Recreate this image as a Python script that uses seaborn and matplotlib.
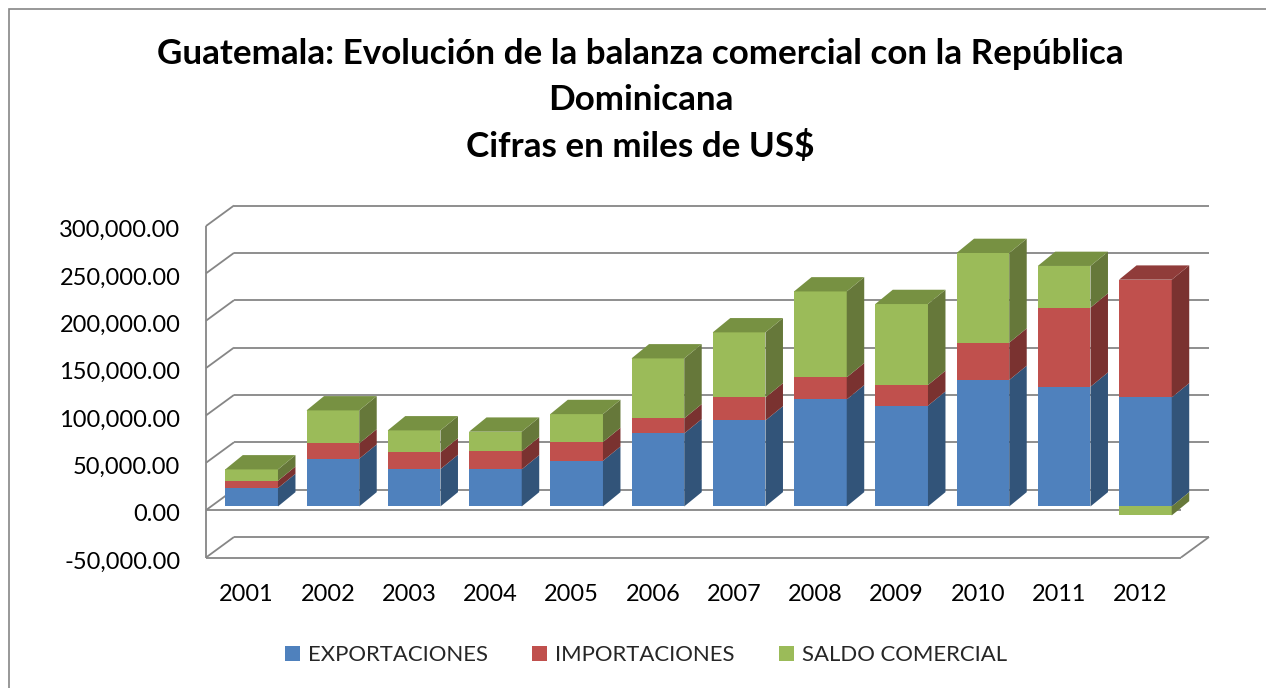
import matplotlib
matplotlib.use("Agg")
import matplotlib.pyplot as plt
from matplotlib.patches import Rectangle
from matplotlib.transforms import ScaledTranslation
import numpy as np
import pandas as pd
import seaborn as sns

years = ["2001", "2002", "2003", "2004", "2005", "2006", "2007", "2008", "2009", "2010", "2011", "2012"]
exportaciones = [19400, 50400, 39400, 39100, 48200, 77100, 90800, 113000, 106400, 133500, 126400, 115100]
importaciones = [7700, 16100, 17600, 19000, 19800, 15900, 24300, 23300, 21800, 39400, 83500, 124300]
saldo = [12000, 34900, 23300, 20800, 29500, 63300, 68700, 90700, 85500, 94700, 44000, -9500]
y_ticks = [-50000, 0, 50000, 100000, 150000, 200000, 250000, 300000]
series_names = ["EXPORTACIONES", "IMPORTACIONES", "SALDO COMERCIAL"]
title_text = "Guatemala: Evolución de la balanza comercial con la República\nDominicana\nCifras en miles de US$"

W, H = 1266, 688
sns.set_theme(style="white")
plt.rcParams["font.family"] = ["Lato", "DejaVu Sans"]

FRONT = {"EXPORTACIONES": "#4f81bd", "IMPORTACIONES": "#c0504d", "SALDO COMERCIAL": "#9bbb59"}
SIDE = {"EXPORTACIONES": "#325479", "IMPORTACIONES": "#7a3230", "SALDO COMERCIAL": "#66783a"}
TOP = {"EXPORTACIONES": "#3f6797", "IMPORTACIONES": "#903c3a", "SALDO COMERCIAL": "#779142"}
GRID = "#868686"

fig = plt.figure(figsize=(W / 100, H / 100), dpi=100, facecolor="white")
fig.add_artist(Rectangle((8.5 / W, -0.01), 1.0, 1 - 8.5 / H + 0.01, transform=fig.transFigure,
                         fill=False, edgecolor=GRID, linewidth=1.2))

L, R, T, B = 206, 1181, 226, 557.5
ax = fig.add_axes([L / W, 1 - B / H, (R - L) / W, (B - T) / H])
SX, SY = 5.0, -3.7
bar_ax = fig.add_axes([(L + SX) / W, 1 - (B + SY) / H, (R - L) / W, (B - T) / H])

xlim = (-0.5, 11.5)
ylim = (-50000, 300000)
px_x = (R - L) / 12
px_y = (B - T) / 350000

# walls
ax.set_xlim(*xlim)
ax.set_ylim(*ylim)
wall_dx, wall_dy = 28 / px_x, 20.5 / px_y
lk = dict(color=GRID, lw=1.3, clip_on=False, solid_capstyle="butt", zorder=2)
for v in y_ticks:
    ax.plot([xlim[0], xlim[0] + wall_dx], [v, v + wall_dy], **lk)
    ax.plot([xlim[0] + wall_dx, xlim[1] + wall_dx], [v + wall_dy, v + wall_dy], **lk)
ax.plot([xlim[0], xlim[0]], list(ylim), **lk)
for v in (0, -50000):
    ax.plot(list(xlim), [v, v], **lk)
ax.plot([xlim[1], xlim[1] + wall_dx], [-50000, -50000 + wall_dy], **lk)
for s in ax.spines.values():
    s.set_visible(False)
ax.set_xticks(range(len(years)), years)
ax.set_yticks(y_ticks, [f"{v:,.2f}" for v in y_ticks])
ax.tick_params(axis="x", length=0, pad=19.2, labelsize=16.9, labelcolor="black")
ax.tick_params(axis="y", length=0, pad=18.5, labelsize=17.0, labelcolor="black")
label_shift = ScaledTranslation(0, -2.5 / 100, fig.dpi_scale_trans)
for lab in ax.get_yticklabels():
    lab.set_transform(lab.get_transform() + label_shift)
ax.patch.set_visible(False)

# bars
exp = np.array(exportaciones, float)
imp = np.array(importaciones, float)
sal = np.array(saldo, float)
bottoms = {
    "EXPORTACIONES": np.zeros(12),
    "IMPORTACIONES": exp,
    "SALDO COMERCIAL": np.where(sal >= 0, exp + imp, 0),
}
values = {"EXPORTACIONES": exp, "IMPORTACIONES": imp, "SALDO COMERCIAL": sal}
bar_w = 52.7 / px_x
for name in series_names:
    df = pd.DataFrame({"year": years, "value": values[name]})
    sns.barplot(data=df, x="year", y="value", ax=bar_ax, bottom=bottoms[name], color=FRONT[name],
                saturation=1, width=bar_w, label=name, legend=False, linewidth=0, errorbar=None, zorder=3)
bar_ax.set_xlim(*xlim)
bar_ax.set_ylim(*ylim)
bar_ax.axis("off")

depth_dx, depth_dy = 17.5 / px_x, 14.3 / px_y
for i in range(12):
    xr = i + bar_w / 2
    xl = i - bar_w / 2
    for name in series_names:
        y0 = bottoms[name][i]
        y1 = y0 + values[name][i]
        bar_ax.fill([xr, xr + depth_dx, xr + depth_dx, xr],
                    [y0, y0 + depth_dy, y1 + depth_dy, y1],
                    color=SIDE[name], lw=0, clip_on=False, zorder=3)
    top_name = "SALDO COMERCIAL" if sal[i] >= 0 else "IMPORTACIONES"
    yt = bottoms[top_name][i] + values[top_name][i]
    bar_ax.fill([xl, xr, xr + depth_dx, xl + depth_dx],
                [yt, yt, yt + depth_dy, yt + depth_dy],
                color=TOP[top_name], lw=0, clip_on=False, zorder=3)

fig.text(640.5 / W, 1 - 100.5 / H, title_text, ha="center", va="center", fontsize=25.2,
         fontweight="bold", color="black", linespacing=1.52)

handles = [Rectangle((0, 0), 1, 1, facecolor=FRONT[n], linewidth=0) for n in series_names]
fs = 15.9
fig.legend(handles, series_names, loc="center", bbox_to_anchor=(646 / W, 1 - 655 / H), ncol=3, frameon=False,
           fontsize=fs, handlelength=0.68, handleheight=0.68, handletextpad=0.36, columnspacing=2.0,
           borderpad=0, borderaxespad=0)

fig.savefig("out.png", dpi=100)
